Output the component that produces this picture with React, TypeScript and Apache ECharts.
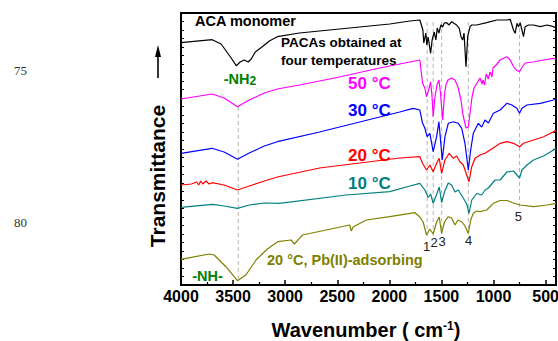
import React, { useEffect, useRef } from "react";
import * as echarts from "echarts";

// [wavenumber (cm-1), transmittance (offset, arbitrary units)]
const acaMonomer: [number, number][] = [
  [4000, 242.3], [3701, 245.3], [3615, 241], [3518, 227], [3470, 219.3], [3432, 223], [3393, 225],
  [3355, 223], [3326, 226], [3287, 233], [3220, 238.3], [3152, 244], [3075, 248.3], [2863, 252],
  [2574, 255], [2285, 258], [1996, 261], [1803, 264], [1707, 265], [1678, 255], [1669, 242],
  [1649, 252], [1640, 240], [1627, 248], [1604, 231.7], [1589, 245], [1569, 253], [1553, 245],
  [1540, 257], [1524, 252], [1505, 260], [1488, 258], [1473, 262], [1450, 262.3], [1428, 260],
  [1402, 263.3], [1380, 261.7], [1354, 260], [1329, 256.7], [1312, 248.3], [1296, 245], [1283, 252],
  [1264, 218.3], [1248, 248.3], [1225, 258.3], [1209, 260], [1161, 260], [1065, 262.3], [968, 265],
  [872, 265], [840, 265.7], [808, 255], [792, 251.7], [775, 261.7], [760, 258.3], [744, 262.3],
  [727, 255], [712, 248.3], [696, 258.3], [664, 260], [616, 260], [551, 258.3], [486, 260],
  [423, 258.3], [400, 257],
];

const paca50: [number, number][] = [
  [4000, 186], [3701, 191], [3586, 187], [3458, 178.3], [3345, 185], [3200, 192], [3075, 196],
  [2863, 200], [2478, 208], [2092, 217], [1803, 223], [1707, 225], [1681, 201.7], [1659, 197],
  [1643, 188.3], [1623, 195], [1604, 203], [1591, 190], [1579, 168.3], [1563, 187], [1543, 200],
  [1524, 205], [1510, 193], [1488, 165], [1471, 190], [1457, 200], [1437, 205], [1402, 207],
  [1370, 205], [1341, 198], [1312, 185], [1293, 170], [1264, 157], [1242, 158], [1225, 172],
  [1206, 188], [1187, 197], [1158, 202], [1129, 207], [1110, 201], [1100, 205], [1085, 200],
  [1071, 211], [1050, 206], [1033, 213], [1015, 208], [1004, 217], [975, 220], [936, 225],
  [872, 228.3], [840, 225], [811, 219], [782, 215], [750, 213.3], [724, 218], [696, 222],
  [619, 223], [522, 225], [423, 226.7], [400, 226],
];

const paca30: [number, number][] = [
  [4000, 131.7], [3701, 136.7], [3586, 133], [3458, 125.7], [3345, 132], [3200, 139], [3075, 143.3],
  [2670, 153], [2285, 163], [1900, 173], [1772, 176.7], [1707, 175], [1681, 161.7], [1659, 157],
  [1637, 148.3], [1611, 151.7], [1579, 133.3], [1546, 148.3], [1524, 163.3], [1492, 125],
  [1466, 148.3], [1434, 161.7], [1386, 163.3], [1338, 161.7], [1305, 156.7], [1274, 141.7],
  [1242, 115], [1219, 135], [1194, 151.7], [1146, 161.7], [1113, 158], [1081, 165], [1049, 162],
  [1001, 171.7], [936, 175], [872, 181.7], [824, 180], [776, 176.7], [750, 171.7], [727, 176.7],
  [679, 180], [551, 181.7], [423, 185], [400, 186],
];

const paca20: [number, number][] = [
  [4000, 100], [3900, 101], [3850, 103], [3830, 100], [3810, 104], [3790, 101], [3760, 104],
  [3730, 101], [3701, 102.3], [3586, 100], [3458, 95], [3345, 99], [3200, 104], [3075, 108],
  [2670, 117], [2285, 122], [1900, 127], [1707, 128.3], [1681, 121.7], [1643, 115], [1611, 120],
  [1579, 113.3], [1546, 121.7], [1521, 126.7], [1498, 111.7], [1466, 125], [1425, 131.7],
  [1386, 126.7], [1354, 129], [1322, 123.3], [1290, 120], [1257, 110], [1235, 103.3], [1209, 118.3],
  [1177, 126.7], [1129, 130], [1081, 131.7], [1033, 135], [985, 138.3], [936, 141.7], [872, 143.3],
  [808, 141.7], [750, 138.3], [712, 141.7], [616, 145], [519, 148.3], [423, 153.3], [400, 155],
];

const paca10: [number, number][] = [
  [4000, 77.7], [3698, 80.7], [3586, 79], [3458, 76.7], [3345, 80], [3200, 82], [3056, 81.7],
  [2413, 90], [1996, 93.3], [1803, 99], [1707, 101.7], [1659, 95], [1627, 87.5], [1604, 91],
  [1579, 81.7], [1548, 90], [1521, 98], [1498, 82.5], [1471, 93], [1434, 102], [1402, 100],
  [1370, 93], [1338, 95], [1302, 89], [1257, 81], [1235, 71.7], [1209, 85], [1161, 91.5],
  [1113, 90], [1081, 95], [1049, 97], [985, 105], [936, 105], [872, 113], [808, 114], [750, 107],
  [727, 115], [679, 120], [616, 125], [519, 129], [423, 135], [400, 136.7],
];

const pacaPb: [number, number][] = [
  [4000, 25.7], [3730, 31], [3682, 30], [3569, 18.3], [3458, 4.3], [3377, 10], [3280, 25],
  [3171, 36], [3072, 43.3], [2943, 45], [2911, 41], [2863, 46.7], [2834, 50], [2381, 60],
  [2365, 54], [2348, 58], [2221, 65], [1996, 68.3], [1755, 72.3], [1707, 68], [1675, 63],
  [1643, 50], [1611, 56], [1579, 51], [1546, 63], [1521, 68], [1498, 51.7], [1471, 63],
  [1434, 68.3], [1402, 67], [1370, 60], [1341, 65], [1302, 63], [1274, 59], [1242, 51.5],
  [1219, 65], [1194, 71.7], [1161, 74], [1129, 73.3], [1065, 75], [1001, 81.7], [936, 84.5],
  [872, 84.5], [808, 82], [744, 80], [616, 78.3], [486, 80], [400, 81.7],
];

// reference bands: [wavenumber, top, bottom]
const bandLines: [number, number, number][] = [
  [3450, 178, 5],
  [1637, 263, 47],
  [1579, 263, 49],
  [1498, 263, 51],
  [1242, 263, 53],
  [750, 257, 77],
];

const bandNumbers = ["1", "2", "3", "4", "5"];
const xTickValues = [4000, 3500, 3000, 2500, 2000, 1500, 1000, 500];
const xMinorValues = [3750, 3250, 2750, 2250, 1750, 1250, 750];

const FONT = "'Liberation Sans', Arial, Helvetica, sans-serif";

const seriesDefs = [
  { name: "ACA monomer", data: acaMonomer, color: "#000000" },
  { name: "50 °C", data: paca50, color: "#ff00ff" },
  { name: "30 °C", data: paca30, color: "#0000ff" },
  { name: "20 °C", data: paca20, color: "#ff0000" },
  { name: "10 °C", data: paca10, color: "#008080" },
  { name: "20 °C, Pb(II)-adsorbing", data: pacaPb, color: "#808000" },
];

function txt(text: string, x: number, y: number, size: number, color: string, extra: any = {}) {
  return {
    type: "text",
    x,
    y,
    silent: true,
    style: {
      text,
      fontSize: size,
      fontWeight: "bold",
      fontFamily: FONT,
      fill: color,
      align: "left",
      verticalAlign: "middle",
      ...extra,
    },
  };
}

export default function App() {
  const ref = useRef<HTMLDivElement>(null);
  useEffect(() => {
    document.body.style.margin = "0";
    if (!ref.current) return;
    const chart = echarts.init(ref.current, undefined, { renderer: "svg" });
    const bandSeries = bandLines.map((b) => ({
      type: "line",
      data: [[b[0], b[1]], [b[0], b[2]]],
      symbol: "none",
      silent: true,
      lineStyle: { color: "#b4b4b4", width: 1, type: [4, 3] },
      z: 1,
    }));
    const spectra = seriesDefs.map((s) => ({
      type: "line",
      name: s.name,
      data: s.data,
      symbol: "none",
      silent: true,
      lineStyle: { color: s.color, width: 1.2 },
      z: 3,
    }));
    const numPos: [number, number][] = [
      [426.7, 246.7],
      [434, 242.7],
      [442, 241],
      [468.7, 240.7],
      [518.3, 216.7],
    ];
    const option: any = {
      animation: false,
      grid: {
        left: 181,
        right: 2,
        top: 13,
        bottom: 56,
        containLabel: false,
        outerBoundsMode: "none",
        show: true,
        borderColor: "#000",
        borderWidth: 2,
        backgroundColor: "transparent",
      },
      xAxis: [
        {
          type: "value",
          min: 400,
          max: 4000,
          inverse: true,
          position: "bottom",
          axisLine: { show: false },
          splitLine: { show: false },
          axisTick: {
            show: true,
            inside: true,
            length: 5,
            lineStyle: { color: "#000", width: 1.5 },
            customValues: xTickValues,
          },
          axisLabel: {
            show: true,
            customValues: xTickValues,
            formatter: (v: number) => String(v),
            hideOverlap: false,
            showMinLabel: true,
            showMaxLabel: true,
            margin: 3,
            fontSize: 16,
            fontWeight: "bold",
            fontFamily: FONT,
            color: "#000",
          },
        },
        {
          type: "value",
          min: 400,
          max: 4000,
          inverse: true,
          position: "bottom",
          axisLine: { show: false },
          splitLine: { show: false },
          axisTick: {
            show: true,
            inside: true,
            length: 3,
            lineStyle: { color: "#000", width: 1.2 },
            customValues: xMinorValues,
          },
          axisLabel: { show: false },
        },
      ],
      yAxis: [
        {
          type: "value",
          min: 0,
          max: 272,
          interval: 8.5,
          position: "left",
          axisLine: { show: false },
          splitLine: { show: false },
          axisTick: { show: true, inside: true, length: 3, lineStyle: { color: "#000", width: 1 } },
          axisLabel: { show: false },
        },
        {
          type: "value",
          min: 0,
          max: 272,
          interval: 8.5,
          position: "right",
          axisLine: { show: false },
          splitLine: { show: false },
          axisTick: { show: true, inside: true, length: 3, lineStyle: { color: "#000", width: 1 } },
          axisLabel: { show: false },
        },
      ],
      series: [...bandSeries, ...spectra],
      graphic: [
        txt("ACA monomer", 195, 21, 14.5, "#000"),
        txt("PACAs obtained at", 281, 42, 13.5, "#000"),
        txt("four temperatures", 281, 60, 13.5, "#000"),
        {
          type: "text",
          x: 240,
          y: 79,
          silent: true,
          style: {
            text: "{a|-NH}{b|2}",
            align: "center",
            verticalAlign: "middle",
            fill: "#008000",
            rich: {
              a: { fontSize: 14.5, fontWeight: "bold", fontFamily: FONT, fill: "#008000" },
              b: { fontSize: 12, fontWeight: "bold", fontFamily: FONT, fill: "#008000", verticalAlign: "bottom" },
            },
          },
        },
        txt("-NH-", 207.5, 276, 14.5, "#008000", { align: "center" }),
        txt("50 °C", 348, 83, 17, "#ff00ff"),
        txt("30 °C", 348, 110, 17, "#0000ff"),
        txt("20 °C", 348, 155, 17, "#ff0000"),
        txt("10 °C", 348, 183, 17, "#008080"),
        txt("20 °C, Pb(II)-adsorbing", 267, 260, 14.5, "#808000"),
        ...bandNumbers.map((n, i) =>
          txt(n, numPos[i][0], numPos[i][1], 13, "#222", { align: "center", fontWeight: "normal" })
        ),
        {
          type: "text",
          x: 157,
          y: 176,
          rotation: Math.PI / 2,
          silent: true,
          style: {
            text: "Transmittance",
            fontSize: 21,
            fontWeight: "bold",
            fontFamily: FONT,
            fill: "#000",
            align: "center",
            verticalAlign: "middle",
          },
        },
        {
          type: "line",
          silent: true,
          shape: { x1: 158, y1: 78, x2: 158, y2: 54 },
          style: { stroke: "#000", lineWidth: 1.6 },
        },
        {
          type: "polygon",
          silent: true,
          shape: { points: [[158, 45], [155, 57], [161, 57]] },
          style: { fill: "#000" },
        },
        {
          type: "text",
          x: 366,
          y: 330,
          silent: true,
          style: {
            text: "{a|Wavenumber ( cm}{s|-1}{a|)}",
            align: "center",
            verticalAlign: "middle",
            rich: {
              a: { fontSize: 20, fontWeight: "bold", fontFamily: FONT, fill: "#000" },
              s: { fontSize: 12, fontWeight: "bold", fontFamily: FONT, fill: "#000", verticalAlign: "top" },
            },
          },
        },
        {
          type: "text",
          x: 14,
          y: 70,
          silent: true,
          style: { text: "75", fontSize: 13, fontFamily: "'Liberation Serif', 'Times New Roman', serif", fill: "#333", verticalAlign: "middle" },
        },
        {
          type: "text",
          x: 14,
          y: 222,
          silent: true,
          style: { text: "80", fontSize: 13, fontFamily: "'Liberation Serif', 'Times New Roman', serif", fill: "#333", verticalAlign: "middle" },
        },
      ],
    };
    chart.setOption(option);
    return () => chart.dispose();
  }, []);
  return <div ref={ref} style={{ width: 558, height: 341, position: "absolute", left: 0, top: 0 }} />;
}
